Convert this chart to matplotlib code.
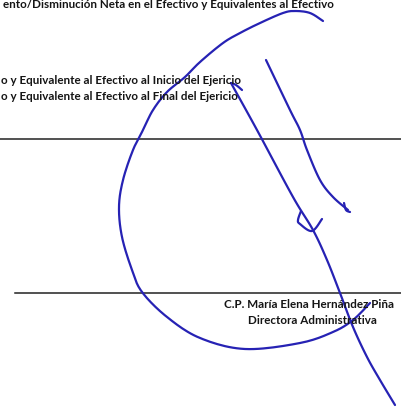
import matplotlib
matplotlib.use("Agg")
import matplotlib.pyplot as plt
import numpy as np

# text lines of the scanned page: (text, right edge x, centre y)
lines_text = [
    "ento/Disminución Neta en el Efectivo y Equivalentes al Efectivo",
    "o y Equivalente al Efectivo al Inicio del Ejericio",
    "o y Equivalente al Efectivo al Final del Ejericio",
]
lines_right = [334, 241, 238]
lines_y = [4, 80, 96]

signer_name = "C.P. María Elena Hernández Piña"
signer_role = "Directora Administrativa"

# signature strokes, pixel coords of the page
loop_x = [323, 310, 295, 283, 260, 240, 223, 200, 185, 167, 153, 143, 133, 123, 119, 122, 132,
          142, 167, 200, 245, 300, 333, 353, 370]
loop_y = [21, 13, 11, 13, 23, 33, 43, 62, 77, 92, 110, 130, 150, 180, 207, 237, 270,
          292, 317, 338, 349, 343, 332, 320, 303]
long_x = [231, 257, 293, 313, 327, 340, 353, 367, 380, 395]
long_y = [83, 130, 197, 230, 260, 293, 327, 357, 380, 405]
short_x = [266, 290, 300, 307, 320, 333, 348]
short_y = [60, 110, 130, 150, 180, 197, 210]
hook_x = [231, 236, 242]
hook_y = [83, 85, 90]
curl_x = [301, 298, 300, 312, 322]
curl_y = [211, 220, 224, 231, 219]
tick_x = [344, 346, 350]
tick_y = [203, 210, 212]

ink = "#2622b4"


def smooth(xs, ys, n=12):
    # catmull-rom through the traced points so the pen strokes look drawn
    p = np.column_stack([xs, ys]).astype(float)
    p = np.vstack([p[0], p, p[-1]])
    out = []
    for i in range(1, len(p) - 2):
        p0, p1, p2, p3 = p[i - 1], p[i], p[i + 1], p[i + 2]
        for t in np.linspace(0, 1, n, endpoint=False):
            out.append(0.5 * ((2 * p1) + (-p0 + p2) * t
                              + (2 * p0 - 5 * p1 + 4 * p2 - p3) * t ** 2
                              + (-p0 + 3 * p1 - 3 * p2 + p3) * t ** 3))
    out.append(p[-2])
    out = np.array(out)
    return out[:, 0], out[:, 1]


fig = plt.figure(figsize=(4.02, 4.09), dpi=100)
ax = fig.add_axes([0, 0, 1, 1])
ax.set_xlim(0, 402)
ax.set_ylim(409, 0)
ax.axis("off")

font = dict(family=["Lato", "DejaVu Sans"], weight="bold", color="#151515")
for t, xr, yc in zip(lines_text, lines_right, lines_y):
    ax.text(xr, yc, t, ha="right", va="center", fontsize=8.4, **font)

ax.plot([0, 402], [139, 139], color="#222222", lw=1.1)
ax.plot([15, 402], [293, 293], color="#222222", lw=1.1)

ax.text(394, 304, signer_name, ha="right", va="center", fontsize=8.4, **font)
ax.text(312, 320, signer_role, ha="center", va="center", fontsize=8.4, **font)

for xs, ys in [(loop_x, loop_y), (long_x, long_y), (short_x, short_y),
               (hook_x, hook_y), (curl_x, curl_y), (tick_x, tick_y)]:
    sx, sy = smooth(xs, ys)
    ax.plot(sx, sy, color=ink, lw=1.6, solid_capstyle="round", solid_joinstyle="round")

fig.savefig("out.png", dpi=100)
